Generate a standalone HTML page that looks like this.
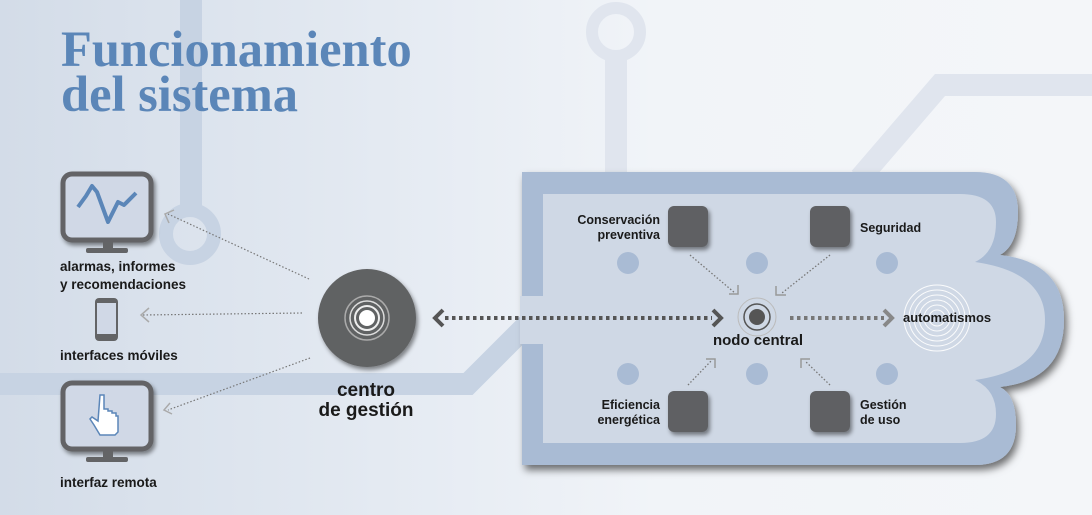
<!DOCTYPE html>
<html><head><meta charset="utf-8">
<style>
html,body{margin:0;padding:0;}
body{width:1092px;height:515px;overflow:hidden;background:linear-gradient(90deg,#d3dce8 0%,#e4eaf2 35%,#f1f4f8 60%,#f4f6f9 100%);}
svg{display:block;}
.t{font-family:"Liberation Sans",Arial,sans-serif;font-weight:bold;fill:#1a1a1a;}
</style></head><body>
<svg width="1092" height="515" viewBox="0 0 1092 515" xmlns="http://www.w3.org/2000/svg">
<defs>
<filter id="sh" x="-10%" y="-10%" width="130%" height="130%"><feDropShadow dx="3" dy="5" stdDeviation="4" flood-color="#000" flood-opacity="0.55"/></filter>
<filter id="sh2" x="-30%" y="-30%" width="160%" height="160%"><feDropShadow dx="2" dy="3" stdDeviation="2" flood-color="#000" flood-opacity="0.45"/></filter>
</defs>
<g fill="none" stroke="#c7d3e3" stroke-width="22">
<path d="M191,0 V212"/>
<path d="M0,384 H468 L540,312"/>
</g>
<circle cx="190" cy="234" r="24" fill="none" stroke="#c7d3e3" stroke-width="14"/>
<g fill="none" stroke="#e0e5ee" stroke-width="22">
<path d="M616,55 V175"/>
<path d="M860,178 L940,85 H1092"/>
</g>
<circle cx="616" cy="32" r="24" fill="none" stroke="#e0e5ee" stroke-width="12"/>

<text x="61" y="66" font-family="'Liberation Serif',serif" font-weight="bold" font-size="50.5" fill="#5b86b8">Funcionamiento</text>
<text x="61" y="111" font-family="'Liberation Serif',serif" font-weight="bold" font-size="50.5" fill="#5b86b8">del sistema</text>

<path filter="url(#sh)" fill="#a9bbd4" d="M522,172 H975 Q1018,172 1018,212 Q1018,245 1000,255 Q1064,262 1064,320 Q1064,380 1000,387 Q1016,395 1016,425 Q1016,465 975,465 H522 Z"/>
<path fill="#cfd8e5" d="M543,194 H960 Q996,194 996,222 Q996,252 975,262 Q1045,272 1045,320 Q1045,370 975,380 Q996,390 996,414 Q996,443 960,443 H543 Z"/>
<rect x="520" y="296" width="25" height="48" fill="#cfd8e5"/>

<g fill="#a9bbd4">
<circle cx="628" cy="263" r="11"/><circle cx="757" cy="263" r="11"/><circle cx="887" cy="263" r="11"/>
<circle cx="628" cy="374" r="11"/><circle cx="757" cy="374" r="11"/><circle cx="887" cy="374" r="11"/>
</g>
<g fill="#5f6163" filter="url(#sh2)">
<rect x="668" y="206" width="40" height="41" rx="6"/>
<rect x="810" y="206" width="40" height="41" rx="6"/>
<rect x="668" y="391" width="40" height="41" rx="6"/>
<rect x="810" y="391" width="40" height="41" rx="6"/>
</g>
<g class="t" font-size="12.5">
<text x="660" y="224" text-anchor="end">Conservación</text>
<text x="660" y="239" text-anchor="end">preventiva</text>
<text x="860" y="232">Seguridad</text>
<text x="660" y="409" text-anchor="end">Eficiencia</text>
<text x="660" y="424" text-anchor="end">energética</text>
<text x="860" y="409">Gestión</text>
<text x="860" y="424">de uso</text>
</g>
<g fill="none" stroke="#777" stroke-width="1.3" stroke-dasharray="1.5 2">
<path d="M690,255 L735,293"/><path d="M830,255 L782,293"/>
<path d="M688,385 L712,360"/><path d="M830,385 L805,361"/>
</g>
<g fill="none" stroke="#999" stroke-width="1.5">
<path d="M729,294 H738 V285"/><path d="M776,286 V295 H786"/>
<path d="M706,359 H715 V368"/><path d="M801,368 V359 H810"/>
</g>
<circle cx="757" cy="317" r="19" fill="none" stroke="#bbb" stroke-width="1"/>
<circle cx="757" cy="317" r="13" fill="none" stroke="#555" stroke-width="1.5"/>
<circle cx="757" cy="317" r="8" fill="#555"/>
<text class="t" x="758" y="345" font-size="15" text-anchor="middle">nodo central</text>
<g fill="none" stroke="#fff" stroke-width="1" opacity="0.9">
<circle cx="937" cy="318" r="8"/><circle cx="937" cy="318" r="13"/><circle cx="937" cy="318" r="18"/>
<circle cx="937" cy="318" r="23"/><circle cx="937" cy="318" r="28"/><circle cx="937" cy="318" r="33"/>
</g>
<text class="t" x="903" y="322" font-size="13">automatismos</text>
<line x1="445" y1="318" x2="712" y2="318" stroke="#555" stroke-width="4" stroke-dasharray="3.5 3.5"/>
<path d="M443,310 L435,318 L443,326" fill="none" stroke="#555" stroke-width="4"/>
<path d="M713,310 L721,318 L713,326" fill="none" stroke="#555" stroke-width="4"/>
<line x1="790" y1="318" x2="884" y2="318" stroke="#777" stroke-width="4" stroke-dasharray="3.5 3.5"/>
<path d="M884,310 L892,318 L884,326" fill="none" stroke="#888" stroke-width="4"/>

<circle cx="367" cy="318" r="49" fill="#616264" filter="url(#sh2)"/>
<circle cx="367" cy="318" r="22" fill="none" stroke="#aaa" stroke-width="1.5"/>
<circle cx="367" cy="318" r="17" fill="none" stroke="#ddd" stroke-width="1.5"/>
<circle cx="367" cy="318" r="12" fill="none" stroke="#eee" stroke-width="2"/>
<circle cx="367" cy="318" r="8" fill="#fff"/>
<text class="t" x="366" y="396" font-size="19" text-anchor="middle">centro</text>
<text class="t" x="366" y="416" font-size="19" text-anchor="middle">de gestión</text>

<g fill="none" stroke="#777" stroke-width="1.2" stroke-dasharray="1.5 2">
<path d="M309,279 L168,214"/><path d="M302,313 L143,315"/><path d="M310,358 L168,410"/>
</g>
<g fill="none" stroke="#aaa" stroke-width="1.5">
<path d="M174,210 L165,214 L169,223"/>
<path d="M149,308 L141,315 L149,322"/>
<path d="M170,403 L164,410 L172,414"/>
</g>

<rect x="63" y="174" width="88" height="66" rx="9" fill="#d0d8e6" stroke="#636466" stroke-width="5" filter="url(#sh2)"/>
<rect x="103" y="242" width="10" height="6" fill="#636466"/>
<rect x="86" y="248" width="42" height="5" rx="2" fill="#636466"/>
<path d="M78,207 L86,196 L92,186 L97,192 L108,222 L118,202 L124,205 L136,193" fill="none" stroke="#5b86b8" stroke-width="4" stroke-linejoin="round"/>
<text class="t" x="60" y="271" font-size="13.5">alarmas, informes</text>
<text class="t" x="60" y="289" font-size="13.5">y recomendaciones</text>
<rect x="95" y="298" width="23" height="43" rx="4" fill="#636466"/>
<rect x="97" y="303" width="19" height="31" fill="#d0d8e6"/>
<text class="t" x="60" y="360" font-size="13.5">interfaces móviles</text>
<rect x="63" y="383" width="88" height="66" rx="9" fill="#d0d8e6" stroke="#636466" stroke-width="5" filter="url(#sh2)"/>
<rect x="103" y="451" width="10" height="6" fill="#636466"/>
<rect x="86" y="457" width="42" height="5" rx="2" fill="#636466"/>
<path d="M100,395 h4 v14 h4 v2 h4 v2 h4 v3 h2 v16 l-3,3 h-15 l-6,-10 l-4,-6 l2,-2 l6,4 z" fill="#fff" stroke="#5b86b8" stroke-width="1.5"/>
<text class="t" x="60" y="487" font-size="13.5">interfaz remota</text>
</svg>
</body></html>
